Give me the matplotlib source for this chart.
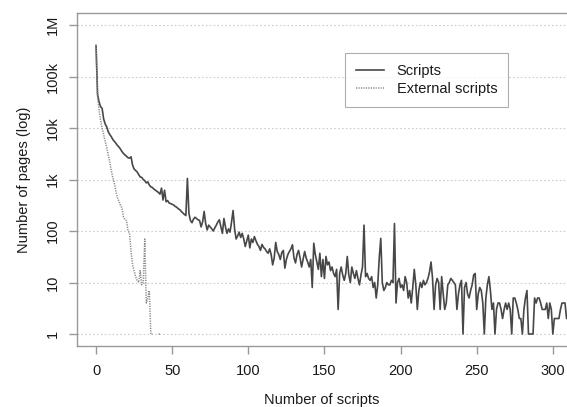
import numpy as np
import matplotlib
matplotlib.use('Agg')
import matplotlib.pyplot as plt

plt.rcParams['font.family'] = ['Liberation Sans', 'DejaVu Sans']

# %% data (pages per number of scripts, 0 = no page)
scripts = [
    400000, 45000, 32000, 26000, 24000, 15000, 12000, 10500, 8500, 7500,
    6800, 6000, 5500, 5100, 4600, 4300, 3900, 3500, 3200, 3000,
    2800, 2650, 2600, 2750, 1900, 1600, 1500, 1400, 1250, 1120,
    1100, 1000, 950, 860, 900, 780, 720, 700, 650, 620,
    590, 560, 520, 680, 400, 620, 370, 390, 350, 340,
    330, 320, 300, 290, 270, 260, 240, 225, 210, 200,
    1050, 220, 160, 145, 170, 185, 175, 165, 160, 120,
    150, 240, 140, 105, 130, 120, 110, 100, 115, 130,
    150, 165, 120, 90, 175, 120, 90, 110, 95, 150,
    250, 110, 70, 80, 95, 75, 90, 70, 50, 65,
    83, 47, 70, 60, 78, 65, 55, 50, 42, 55,
    48, 45, 40, 37, 45, 35, 22, 30, 60, 40,
    35, 28, 38, 42, 19, 28, 35, 40, 45, 54,
    30, 24, 35, 42, 30, 20, 28, 40, 30, 25,
    20, 28, 8, 58, 35, 25, 18, 37, 13, 28,
    12, 32, 22, 25, 17, 20, 15, 13, 18, 3,
    15, 20, 14, 11, 15, 32, 14, 10, 20, 15,
    12, 17, 12, 9, 14, 20, 130, 13, 15, 12,
    11, 13, 8, 10, 5, 9, 30, 72, 10, 7,
    8, 10, 9, 9, 11, 10, 140, 4, 10, 12,
    8, 9, 7, 13, 10, 5, 7, 4, 8, 18,
    9, 3, 7, 10, 8, 11, 9, 10, 12, 16,
    25, 12, 3, 9, 12, 10, 3, 13, 6, 3,
    4, 9, 10, 12, 11, 10, 9, 3, 6, 9,
    11, 1, 8, 10, 6, 5, 7, 9, 14, 15,
    3, 6, 8, 7, 4, 1, 5, 9, 13, 7,
    3, 4, 1, 3, 4, 4, 3, 2, 3, 4,
    3, 4, 3, 1, 5, 5, 4, 3, 2, 2,
    1, 3, 5, 7, 1, 1, 1, 1, 5, 4,
    5, 5, 4, 3, 3, 3, 4, 2, 4, 3,
    1, 2, 2, 2, 2, 3, 4, 4, 4, 2, 2,
]
external = [
    400000, 40000, 22000, 14000, 10000, 7500, 5500, 4200, 3000, 2200,
    1500, 1100, 850, 600, 450, 380, 320, 280, 190, 165,
    160, 100, 90, 40, 22, 17, 13, 11, 10, 17,
    9, 10, 70, 4, 5, 7, 1, 1, 0, 0,
    0, 1, 1,
]
yticks = [1, 10, 100, 1e3, 1e4, 1e5, 1e6]
ylabels = ['1', '10', '100', '1k', '10k', '100k', '1M']
xticks = [0, 50, 100, 150, 200, 250, 300]

x1 = np.arange(len(scripts))
y1 = np.array(scripts, dtype=float)
y1[y1 <= 0] = np.nan
x2 = np.arange(len(external))
y2 = np.array(external, dtype=float)
y2[y2 <= 0] = np.nan

# %% plot
fig = plt.figure(figsize=(5.67, 4.07), dpi=100)
ax = fig.add_axes([77 / 567, 61 / 407, 1 - 77 / 567, 333 / 407])
ax.set_yscale('log')
for y in yticks:
    ax.axhline(y, color='#cccccc', lw=0.8, ls=(0, (1.5, 2)), zorder=0)
ax.plot(x1, y1, color='#474747', lw=1.2, label='Scripts')
ax.plot(x2, y2, color='#8a8a8a', lw=1.1, ls=(0, (0.8, 0.8)),
        label='External scripts')
ax.set_xlim(-12.5, 309.3)
ax.set_ylim(0.585, 1.71e6)

grey = '#999999'
fs = 10.5
for s in ['left', 'bottom', 'top']:
    ax.spines[s].set_color(grey)
    ax.spines[s].set_linewidth(1.0)
ax.spines['right'].set_visible(False)
ax.set_xticks(xticks)
ax.set_yticks(yticks)
ax.set_yticklabels(ylabels, rotation=90, va='center')
ax.minorticks_off()
ax.tick_params(axis='both', direction='out', length=6, width=1.0,
               color=grey, labelsize=fs, labelcolor='#1a1a1a')
ax.tick_params(axis='y', pad=6)
ax.tick_params(axis='x', pad=7)
ax.set_xlabel('Number of scripts', fontsize=fs, color='#1a1a1a',
              labelpad=11)
ax.set_ylabel('Number of pages (log)', fontsize=fs, color='#1a1a1a',
              labelpad=11)

leg = ax.legend(loc='upper left', bbox_to_anchor=(345 / 567, 1 - 53 / 407),
                bbox_transform=fig.transFigure, borderaxespad=0,
                fontsize=fs, frameon=True, fancybox=False,
                handlelength=1.9, handletextpad=0.9, borderpad=0.75,
                labelspacing=0.3)
leg.get_frame().set_edgecolor(grey)
leg.get_frame().set_linewidth(0.8)
for t in leg.get_texts():
    t.set_color('#1a1a1a')

plt.savefig('out.png', dpi=100)
